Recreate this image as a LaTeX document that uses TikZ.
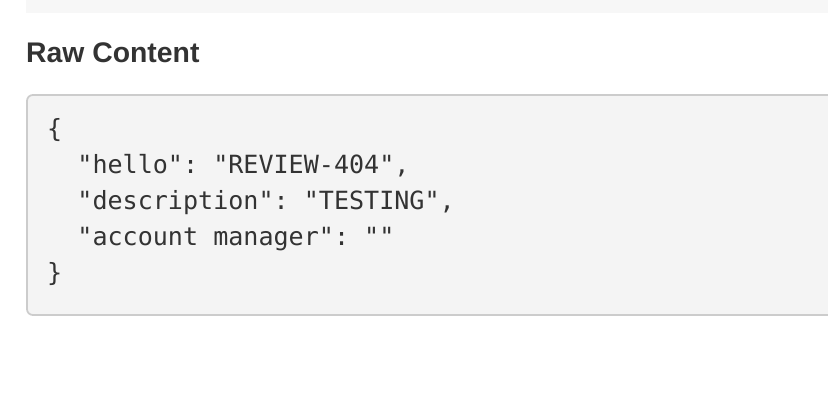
\documentclass[tikz,border=0pt]{standalone}
\usepackage{fontspec}
\setmainfont{Liberation Sans}
\setmonofont{DejaVu Sans Mono}
\usetikzlibrary{positioning}
\definecolor{ink}{HTML}{333333}
\definecolor{codebg}{HTML}{F4F4F4}
\definecolor{codeline}{HTML}{CCCCCC}
\definecolor{topbg}{HTML}{F7F7F7}
\begin{document}
\begin{tikzpicture}[x=0.03cm,y=-0.03cm,
  codetext/.style={anchor=base west,inner sep=0pt,text=ink,font=\ttfamily\fontsize{21.4}{24}\selectfont}]
      \useasboundingbox (0,0) rectangle (828,404);
      \fill[topbg] (26,0) rectangle (828,13);
      \node[anchor=base west,inner sep=0pt,text=ink,font=\bfseries\fontsize{24.2}{28}\selectfont] (title) at (26,63) {Raw Content};
      \draw[codeline,fill=codebg,line width=1.5pt,rounded corners=5] (27,95) rectangle (845,315);
      \node[codetext] (l1) at (47,138) {\{};
      \node[codetext] (l2) at (47,174) {\ \ "hello": "REVIEW-404",};
      \node[codetext] (l3) at (47,210) {\ \ "description": "TESTING",};
      \node[codetext] (l4) at (47,246) {\ \ "account manager": ""};
      \node[codetext] (l5) at (47,282) {\}};
\end{tikzpicture}
\end{document}
